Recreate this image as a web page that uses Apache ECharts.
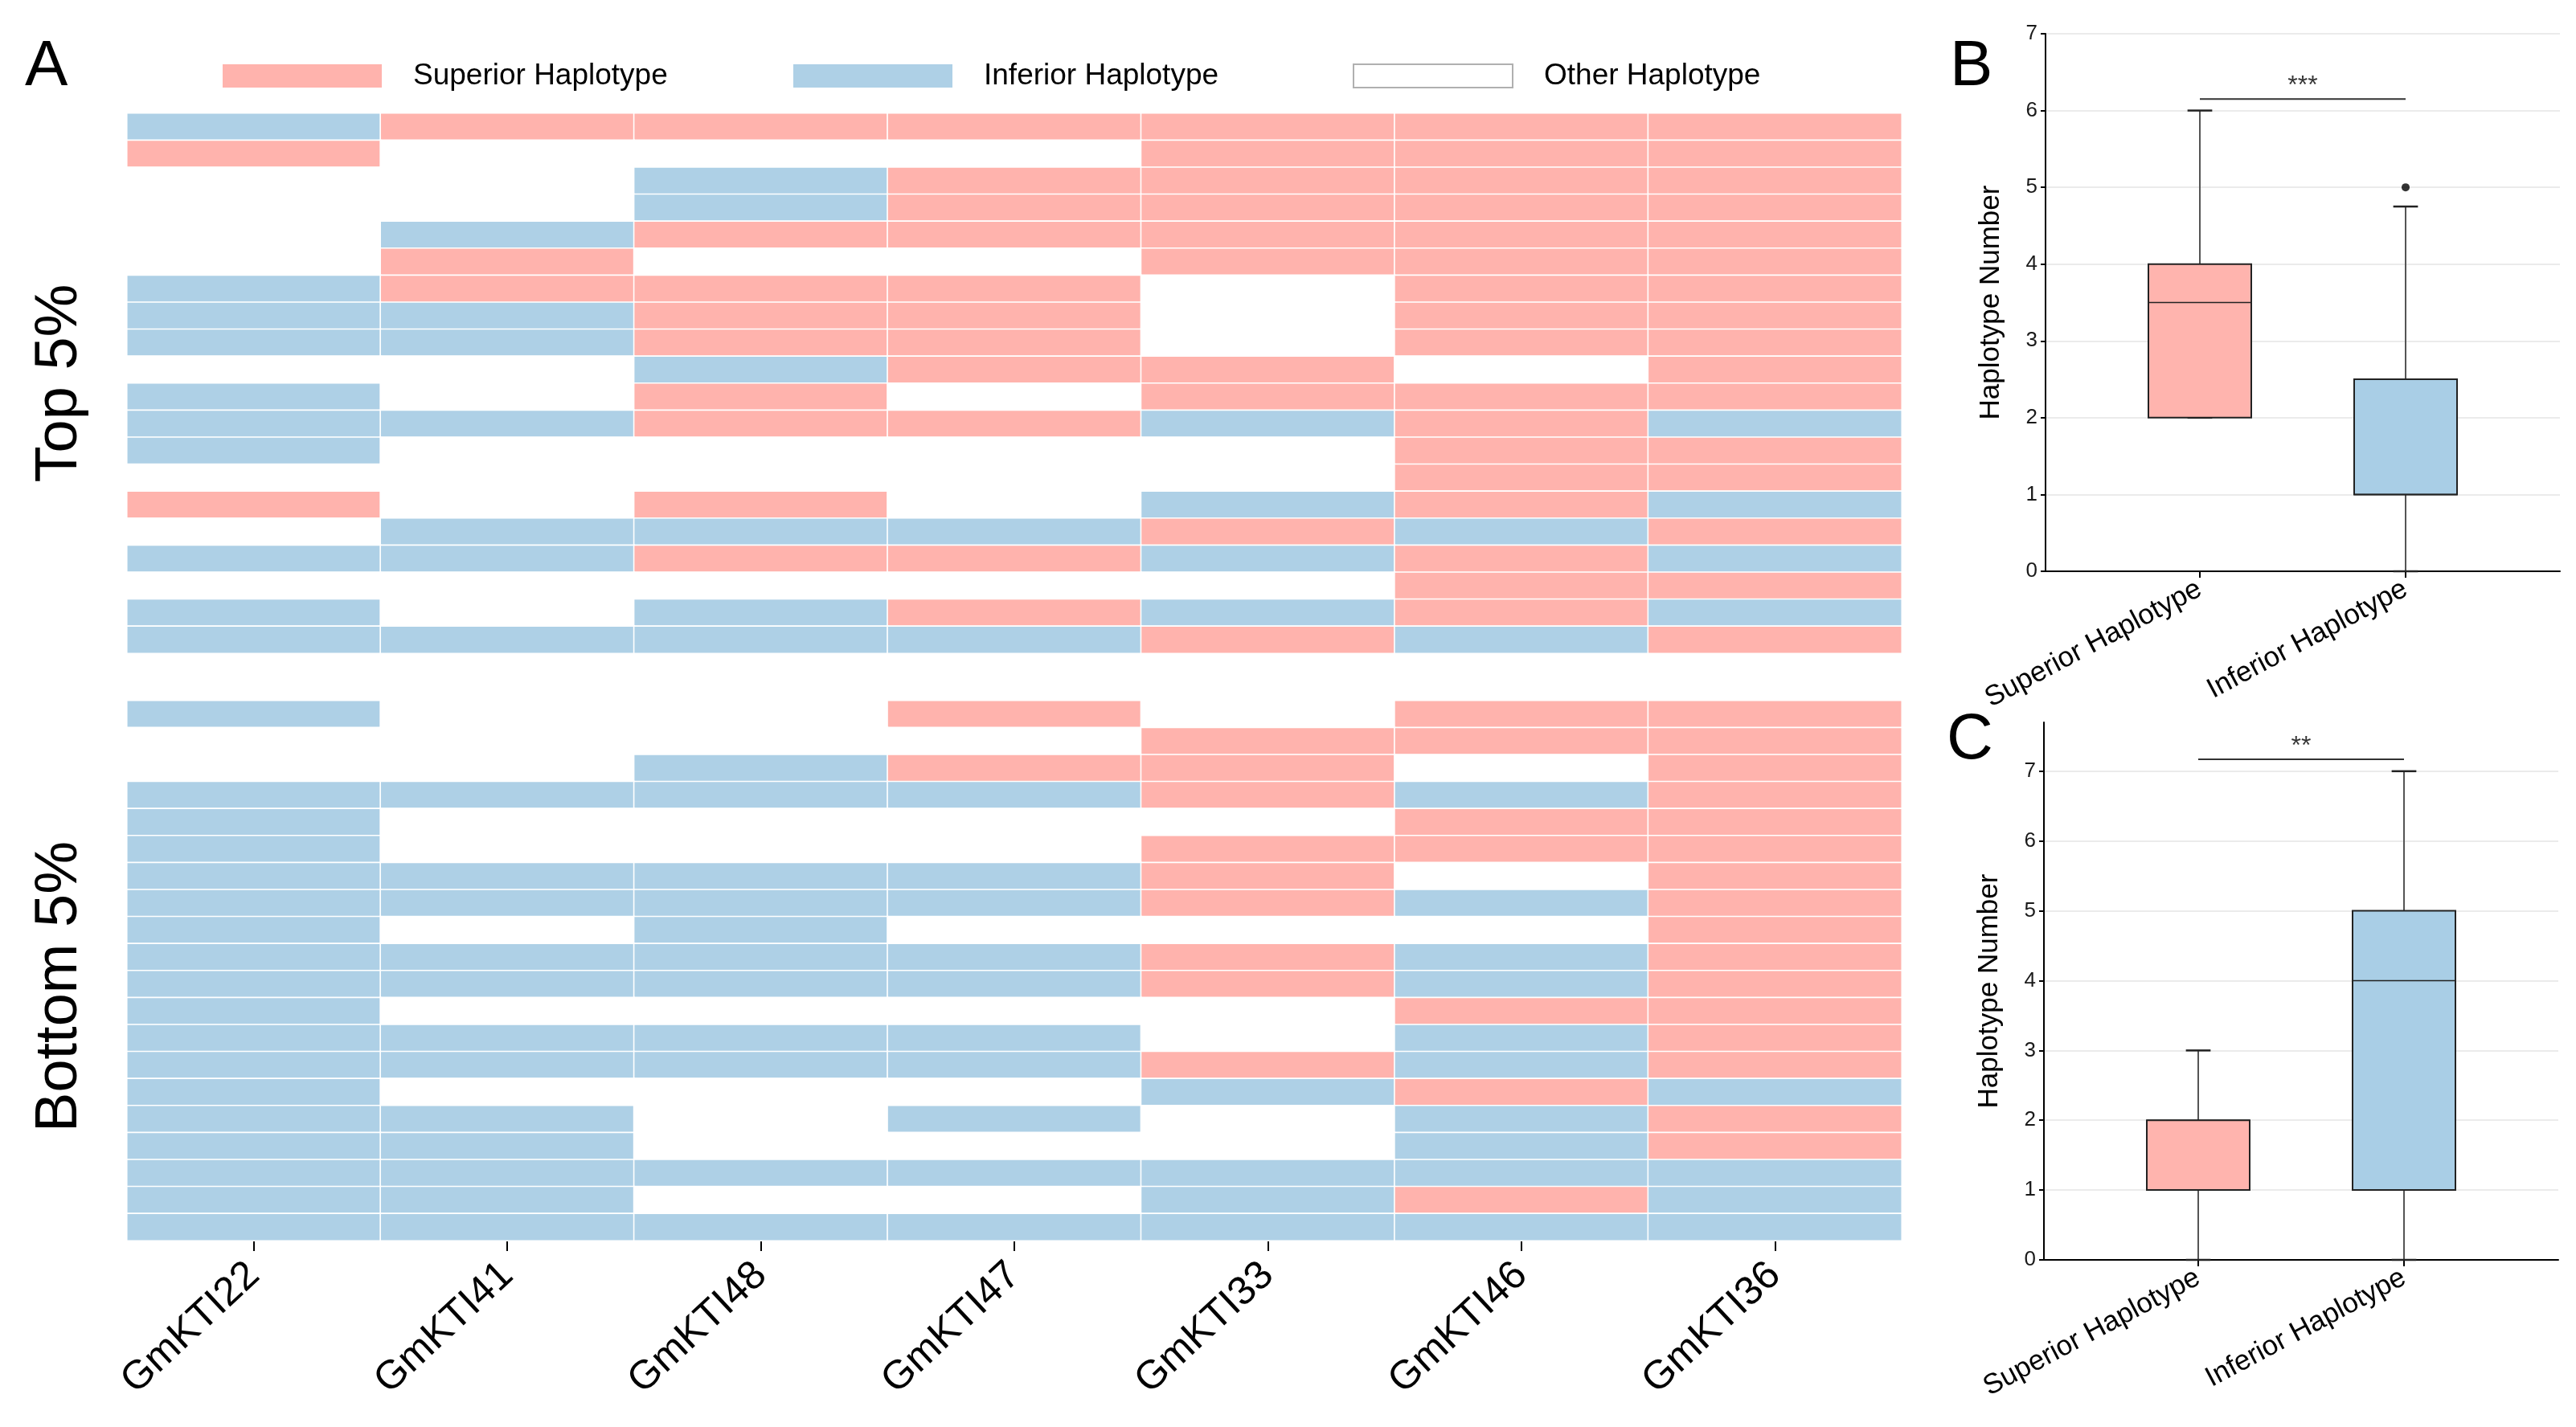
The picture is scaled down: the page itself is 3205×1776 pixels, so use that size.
<!DOCTYPE html>
<html>
<head>
<meta charset="utf-8">
<title>GmKTI haplotypes</title>
<script src="https://cdn.jsdelivr.net/npm/echarts@6/dist/echarts.min.js"></script>
<style>
  html, body { margin: 0; padding: 0; background: #fff; }
  #main { width: 3205px; height: 1776px; }
</style>
</head>
<body>
<div id="main"></div>
<script>
// genes (columns of panel A)
var genes = ['GmKTI22', 'GmKTI41', 'GmKTI48', 'GmKTI47', 'GmKTI33', 'GmKTI46', 'GmKTI36'];

// 0 = other, 1 = superior, 2 = inferior haplotype ; one row per accession
var topRows = [
    [2,1,1,1,1,1,1],
    [1,0,0,0,1,1,1],
    [0,0,2,1,1,1,1],
    [0,0,2,1,1,1,1],
    [0,2,1,1,1,1,1],
    [0,1,0,0,1,1,1],
    [2,1,1,1,0,1,1],
    [2,2,1,1,0,1,1],
    [2,2,1,1,0,1,1],
    [0,0,2,1,1,0,1],
    [2,0,1,0,1,1,1],
    [2,2,1,1,2,1,2],
    [2,0,0,0,0,1,1],
    [0,0,0,0,0,1,1],
    [1,0,1,0,2,1,2],
    [0,2,2,2,1,2,1],
    [2,2,1,1,2,1,2],
    [0,0,0,0,0,1,1],
    [2,0,2,1,2,1,2],
    [2,2,2,2,1,2,1]
];
var bottomRows = [
    [2,0,0,1,0,1,1],
    [0,0,0,0,1,1,1],
    [0,0,2,1,1,0,1],
    [2,2,2,2,1,2,1],
    [2,0,0,0,0,1,1],
    [2,0,0,0,1,1,1],
    [2,2,2,2,1,0,1],
    [2,2,2,2,1,2,1],
    [2,0,2,0,0,0,1],
    [2,2,2,2,1,2,1],
    [2,2,2,2,1,2,1],
    [2,0,0,0,0,1,1],
    [2,2,2,2,0,2,1],
    [2,2,2,2,1,2,1],
    [2,0,0,0,2,1,2],
    [2,2,0,2,0,2,1],
    [2,2,0,0,0,2,1],
    [2,2,2,2,2,2,2],
    [2,2,0,0,2,1,2],
    [2,2,2,2,2,2,2]
];
var hapNames = ['Other Haplotype', 'Superior Haplotype', 'Inferior Haplotype'];

// box plots: [x, min, Q1, median, Q3, max]
var groups = ['Superior Haplotype', 'Inferior Haplotype'];
var boxTop = [[1, 2, 2, 3.5, 4, 6], [2, 0, 1, 1, 2.5, 4.75]];
var outTop = [[2, 5]];
var boxBottom = [[1, 0, 1, 2, 2, 3], [2, 0, 1, 4, 5, 7]];
var outBottom = [];
var sigTop = [[1, 6.15], [2, 6.15]];
var sigBottom = [[1, 7.17], [2, 7.17]];
var yTicks = [0, 1, 2, 3, 4, 5, 6, 7];

var PINK = '#FFB3AD';
var BLUE = '#AED0E6';
var boxColors = ['#FFB4AE', '#A9CEE6'];
var FONT = 'Liberation Sans, Arial, sans-serif';

function toCells(rows) {
    var out = [];
    rows.forEach(function (row, r) {
        row.forEach(function (v, c) {
            out.push([c, r, v]);
        });
    });
    return out;
}

function renderBox(params, api) {
    var x = api.value(0);
    var lo = api.coord([x, api.value(1)]);
    var q1 = api.coord([x, api.value(2)]);
    var md = api.coord([x, api.value(3)]);
    var q3 = api.coord([x, api.value(4)]);
    var hi = api.coord([x, api.value(5)]);
    var bw = api.size([0.5, 0])[0];
    var cw = api.size([0.12, 0])[0];
    var cx = q1[0];
    var line = { stroke: '#555', lineWidth: 2 };
    var dark = { stroke: '#222', lineWidth: 2.5 };
    return {
        type: 'group',
        children: [
            { type: 'line', shape: { x1: cx, y1: q1[1], x2: cx, y2: lo[1] }, style: line },
            { type: 'line', shape: { x1: cx, y1: q3[1], x2: cx, y2: hi[1] }, style: line },
            { type: 'line', shape: { x1: cx - cw / 2, y1: lo[1], x2: cx + cw / 2, y2: lo[1] }, style: dark },
            { type: 'line', shape: { x1: cx - cw / 2, y1: hi[1], x2: cx + cw / 2, y2: hi[1] }, style: dark },
            { type: 'rect', shape: { x: cx - bw / 2, y: q3[1], width: bw, height: q1[1] - q3[1] },
              style: { fill: boxColors[params.dataIndex], stroke: '#222', lineWidth: 2 } },
            { type: 'line', shape: { x1: cx - bw / 2, y1: md[1], x2: cx + bw / 2, y2: md[1] }, style: { stroke: '#222', lineWidth: 1.5 } }
        ]
    };
}

function boxXAxis(idx) {
    return {
        type: 'value', gridIndex: idx, min: 0.25, max: 2.75,
        axisLine: { lineStyle: { color: '#000', width: 2 } },
        axisTick: { customValues: [1, 2], length: 8, lineStyle: { color: '#000', width: 2 } },
        axisLabel: {
            customValues: [1, 2], rotate: 28, margin: 20, fontSize: 35, color: '#000', fontFamily: FONT,
            formatter: function (v) { return groups[Math.round(v) - 1]; }
        },
        splitLine: { show: false }
    };
}

function boxYAxis(idx, max) {
    return {
        type: 'value', gridIndex: idx, min: 0, max: max,
        name: 'Haplotype Number', nameLocation: 'middle', nameGap: 50, nameRotate: 90,
        nameTextStyle: { fontSize: 35, color: '#000', fontFamily: FONT },
        axisLine: { show: true, lineStyle: { color: '#000', width: 2 } },
        axisTick: { show: true, customValues: yTicks, length: 6, lineStyle: { color: '#000', width: 2 } },
        axisLabel: { customValues: yTicks, fontSize: 26, color: '#1a1a1a', margin: 10, fontFamily: FONT },
        splitLine: { show: true, lineStyle: { color: '#ebebeb', width: 2 } }
    };
}

function heatY(idx, name, rows, pad) {
    return {
        type: 'category', gridIndex: idx, inverse: true,
        data: rows.map(function (_, i) { return i + 1; }),
        name: name, nameLocation: 'middle', nameRotate: 90, nameGap: 46,
        nameTextStyle: { fontSize: 74, color: '#000', fontFamily: FONT, padding: pad },
        axisLine: { show: false }, axisTick: { show: false }, axisLabel: { show: false },
        splitLine: { show: false }
    };
}

function legendFor(name, left) {
    return {
        data: [name], left: left, top: 76, padding: 0,
        icon: 'rect', itemWidth: 198, itemHeight: 29, selectedMode: false,
        textStyle: { fontSize: 37, color: '#000', fontFamily: FONT, padding: [0, 0, 0, 34] }
    };
}

var chart = echarts.init(document.getElementById('main'), null, { renderer: 'canvas' });

var option = {
    backgroundColor: '#fff',
    animation: false,
    textStyle: { fontFamily: FONT },
    title: [
        { text: 'A', left: 31, top: 44, padding: 0, textStyle: { fontSize: 80, fontWeight: 'normal', color: '#000', fontFamily: FONT } },
        { text: 'B', left: 2426, top: 44, padding: 0, textStyle: { fontSize: 80, fontWeight: 'normal', color: '#000', fontFamily: FONT } },
        { text: 'C', left: 2422, top: 882, padding: 0, textStyle: { fontSize: 80, fontWeight: 'normal', color: '#000', fontFamily: FONT } }
    ],
    legend: [
        legendFor(hapNames[1], 277),
        legendFor(hapNames[2], 987),
        legendFor(hapNames[0], 1683)
    ],
    grid: [
        { left: 158, top: 141, width: 2208, height: 672 },
        { left: 158, top: 872, width: 2208, height: 672 },
        { left: 2545, top: 42, width: 640, height: 669 },
        { left: 2543, top: 899, width: 640, height: 669 }
    ],
    xAxis: [
        { type: 'category', gridIndex: 0, data: genes, axisLine: { show: false }, axisTick: { show: false }, axisLabel: { show: false }, splitLine: { show: false } },
        {
            type: 'category', gridIndex: 1, data: genes,
            axisLine: { show: false },
            axisTick: { show: true, alignWithLabel: true, length: 13, lineStyle: { color: '#000', width: 2 } },
            axisLabel: { rotate: 43, margin: 36, fontSize: 50, color: '#000', fontFamily: FONT },
            splitLine: { show: false }
        },
        boxXAxis(2),
        boxXAxis(3)
    ],
    yAxis: [
        heatY(0, 'Top 5%', topRows, [0, 0, 0, 0]),
        heatY(1, 'Bottom 5%', bottomRows, [0, 40, 0, 0]),
        boxYAxis(2, 7),
        boxYAxis(3, 7.7)
    ],
    visualMap: {
        type: 'piecewise', show: false, dimension: 2, seriesIndex: [0, 1],
        pieces: [
            { value: 0, color: '#ffffff' },
            { value: 1, color: PINK },
            { value: 2, color: BLUE }
        ]
    },
    series: [
        {
            type: 'heatmap', xAxisIndex: 0, yAxisIndex: 0, data: toCells(topRows),
            itemStyle: { borderColor: '#fff', borderWidth: 1.6 }, emphasis: { disabled: true }
        },
        {
            type: 'heatmap', xAxisIndex: 1, yAxisIndex: 1, data: toCells(bottomRows),
            itemStyle: { borderColor: '#fff', borderWidth: 1.6 }, emphasis: { disabled: true }
        },
        // legend entries
        { name: hapNames[1], type: 'bar', xAxisIndex: 0, yAxisIndex: 0, data: [], itemStyle: { color: PINK } },
        { name: hapNames[2], type: 'bar', xAxisIndex: 0, yAxisIndex: 0, data: [], itemStyle: { color: BLUE } },
        { name: hapNames[0], type: 'bar', xAxisIndex: 0, yAxisIndex: 0, data: [], itemStyle: { color: '#fff', borderColor: '#b0b0b0', borderWidth: 2 } },
        // panel B
        {
            type: 'custom', xAxisIndex: 2, yAxisIndex: 2, data: boxTop, renderItem: renderBox,
            encode: { x: 0, y: [1, 2, 3, 4, 5] }, silent: true
        },
        {
            type: 'scatter', xAxisIndex: 2, yAxisIndex: 2, data: outTop, symbolSize: 10,
            itemStyle: { color: '#000' }, silent: true
        },
        {
            type: 'line', xAxisIndex: 2, yAxisIndex: 2, data: sigTop, symbol: 'none',
            lineStyle: { color: '#333', width: 2 }, silent: true
        },
        {
            type: 'scatter', xAxisIndex: 2, yAxisIndex: 2, data: [[1.5, sigTop[0][1]]], symbolSize: 0.1,
            itemStyle: { color: 'rgba(0,0,0,0)' }, silent: true,
            label: { show: true, position: 'top', distance: 0, formatter: '***', fontSize: 32, color: '#000', fontFamily: FONT }
        },
        // panel C
        {
            type: 'custom', xAxisIndex: 3, yAxisIndex: 3, data: boxBottom, renderItem: renderBox,
            encode: { x: 0, y: [1, 2, 3, 4, 5] }, silent: true
        },
        {
            type: 'scatter', xAxisIndex: 3, yAxisIndex: 3, data: outBottom, symbolSize: 10,
            itemStyle: { color: '#000' }, silent: true
        },
        {
            type: 'line', xAxisIndex: 3, yAxisIndex: 3, data: sigBottom, symbol: 'none',
            lineStyle: { color: '#333', width: 2 }, silent: true
        },
        {
            type: 'scatter', xAxisIndex: 3, yAxisIndex: 3, data: [[1.5, sigBottom[0][1]]], symbolSize: 0.1,
            itemStyle: { color: 'rgba(0,0,0,0)' }, silent: true,
            label: { show: true, position: 'top', distance: 0, formatter: '**', fontSize: 32, color: '#000', fontFamily: FONT }
        }
    ]
};

chart.setOption(option);
</script>
</body>
</html>
